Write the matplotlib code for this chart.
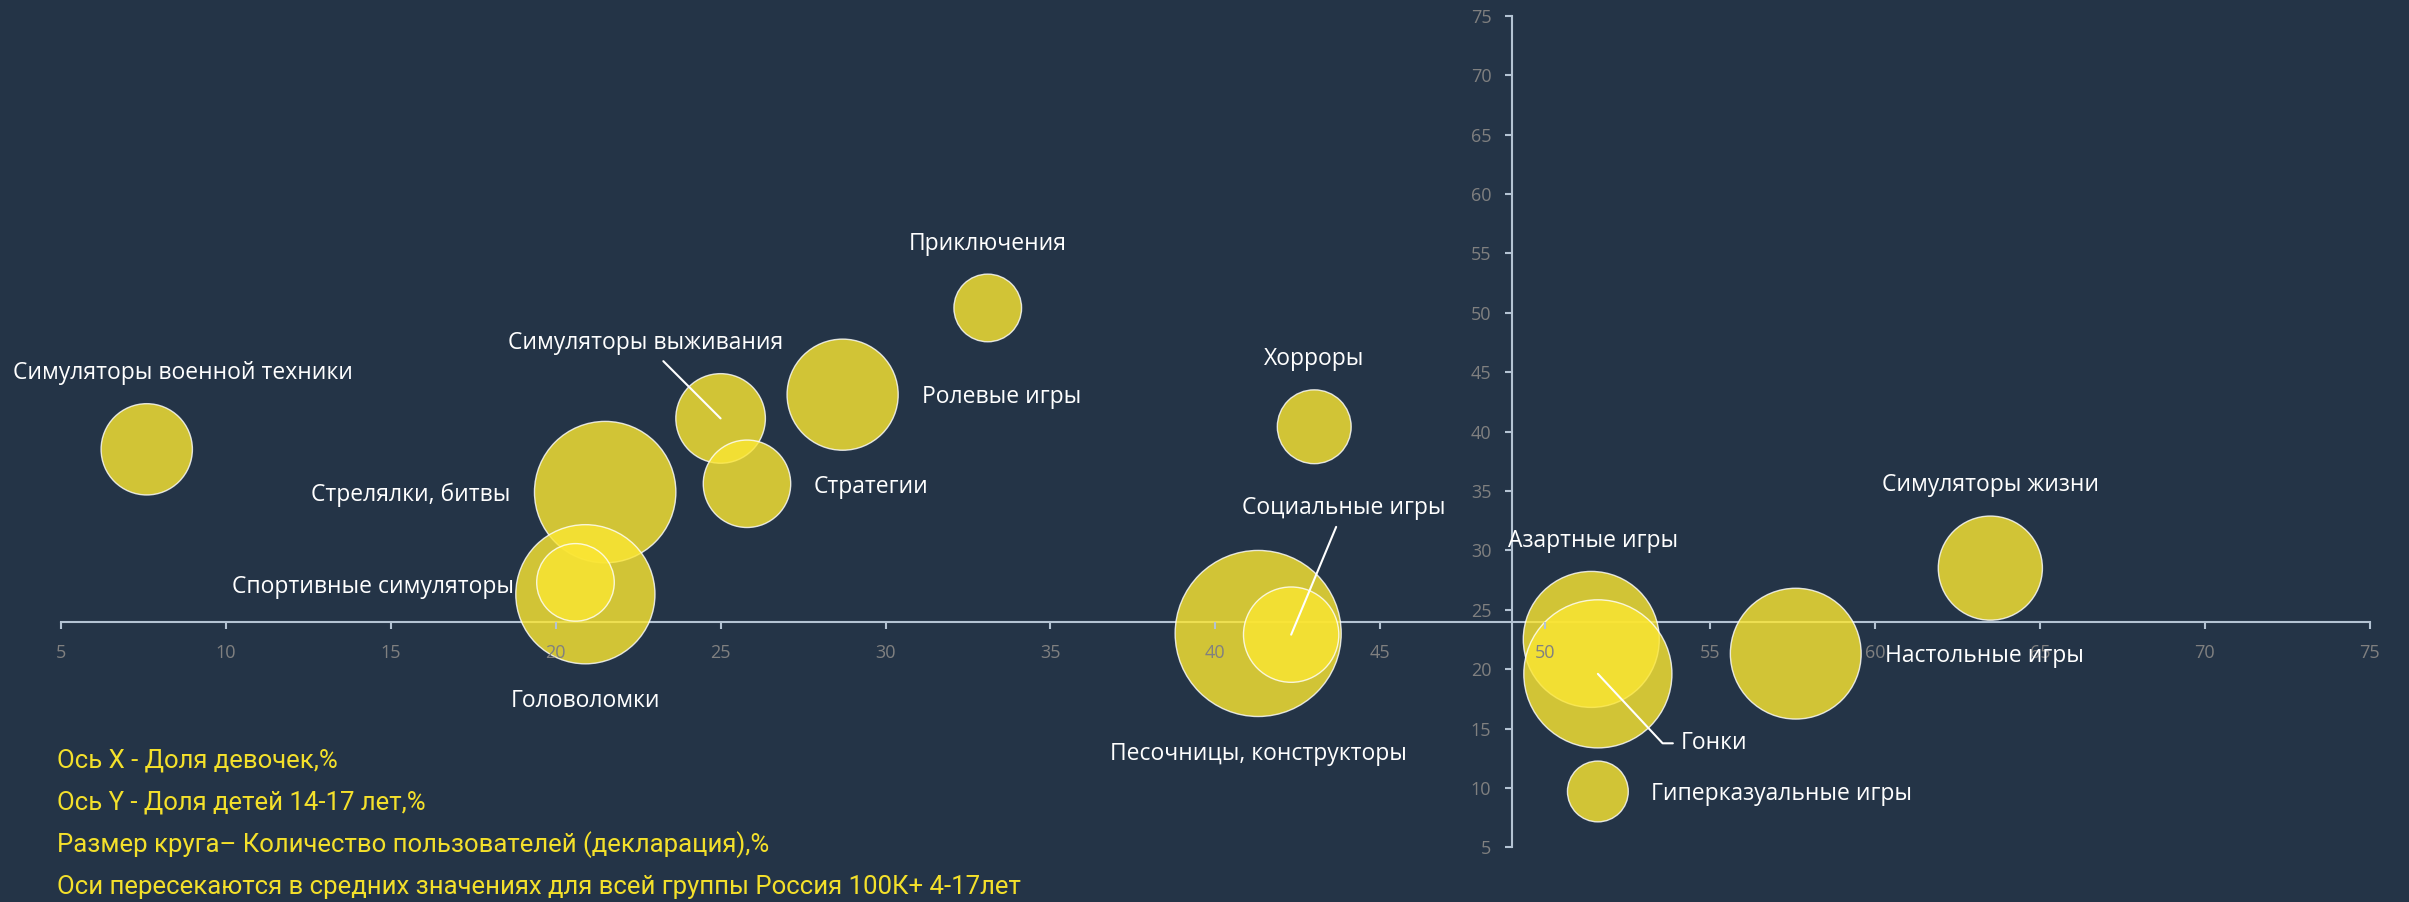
import matplotlib
matplotlib.use("Agg")
import matplotlib.pyplot as plt

# genres, x = share of girls %, y = share of kids 14-17 %, size = users %
genres = ["Симуляторы военной техники", "Стрелялки, битвы", "Головоломки",
          "Спортивные симуляторы", "Симуляторы выживания", "Стратегии",
          "Ролевые игры", "Приключения", "Хорроры", "Песочницы, конструкторы",
          "Социальные игры", "Азартные игры", "Гонки", "Настольные игры",
          "Гиперказуальные игры", "Симуляторы жизни"]
girls = [7.6, 21.5, 20.9, 20.6, 25.0, 25.8, 28.7, 33.1, 43.0, 41.3,
         42.3, 51.4, 51.6, 57.6, 51.6, 63.5]
teens = [38.5, 34.9, 26.3, 27.3, 41.1, 35.6, 43.1, 50.4, 40.4, 23.0,
         22.9, 22.5, 19.6, 21.3, 9.7, 28.5]
users = [13.3, 31.9, 30.9, 9.6, 12.8, 12.2, 19.7, 7.3, 8.7, 44.0,
         14.5, 29.5, 35.0, 27.3, 5.9, 17.3]

ticks = [5, 10, 15, 20, 25, 30, 35, 40, 45, 50, 55, 60, 65, 70, 75]
cross_x = 49.0   # mean share of girls
cross_y = 24.0   # mean share of 14-17

notes = ["Ось X - Доля девочек,%",
         "Ось Y - Доля детей 14-17 лет,%",
         "Размер круга– Количество пользователей (декларация),%",
         "Оси пересекаются в средних значениях для всей группы Россия 100К+ 4-17лет"]

# label placement: (dx pt, dy pt, ha, leader)
label_pos = [(26, 55, "center", None), (-68, -2, "right", None), (0, -77, "center", None),
             (-44, -3, "right", None), (-54, 54, "center", "line"), (48, -2, "left", None),
             (57, -2, "left", None), (0, 46, "center", None), (0, 49, "center", None),
             (0, -87, "center", None), (38, 91, "center", "line"), (-60, 71, "left", None),
             (60, -50, "left", "angle"), (64, -2, "left", None), (38, -2, "left", None),
             (0, 60, "center", None)]

BG = "#243447"
AXC = "#B4C3D3"

fig = plt.figure(figsize=(24.09, 9.02), dpi=100, facecolor=BG)
ax = fig.add_axes([0.02532, 0.06064, 0.95833, 0.92195])
ax.set_facecolor(BG)

ax.scatter(girls, teens, s=[u * 325 for u in users], color="#FBE633", alpha=0.81,
           edgecolors="white", linewidths=1.0, zorder=2)

ax.set_xlim(5, 75)
ax.set_ylim(5, 75)
ax.set_xticks(ticks)
ax.set_yticks(ticks)

for side in ["top", "right"]:
    ax.spines[side].set_visible(False)
ax.spines["left"].set_position(("data", cross_x))
ax.spines["bottom"].set_position(("data", cross_y))
for side in ["left", "bottom"]:
    ax.spines[side].set_color(AXC)
    ax.spines[side].set_linewidth(1.5)
    ax.spines[side].set_zorder(1)

ax.tick_params(axis="both", colors=AXC, labelcolor="#808080", length=5, width=1.5,
               labelsize=13)
ax.tick_params(axis="x", pad=11)
ax.tick_params(axis="y", pad=10)
for lab in ax.get_xticklabels() + ax.get_yticklabels():
    lab.set_family("Open Sans")
ax.xaxis.set_zorder(4)
ax.yaxis.set_zorder(4)

for name, x, y, (dx, dy, ha, leader) in zip(genres, girls, teens, label_pos):
    arrow = None
    if leader == "line":
        arrow = dict(arrowstyle="-", color="white", lw=1.5, shrinkA=3, shrinkB=0)
    elif leader == "angle":
        arrow = dict(arrowstyle="-", color="white", lw=1.5, shrinkA=4, shrinkB=0,
                     relpos=(0, 0.5), connectionstyle="angle,angleA=0,angleB=-47,rad=0")
    ax.annotate(name, xy=(x, y), xytext=(dx, dy), textcoords="offset points",
                ha=ha, va="center", color="white", fontsize=16.5, family="Open Sans",
                arrowprops=arrow, zorder=5)

note_y = [0.1574, 0.1101, 0.0632, 0.0170]
for txt, ny in zip(notes, note_y):
    fig.text(0.0235, ny, txt, color="#F4E02B", fontsize=18.5, family="Roboto",
             ha="left", va="center")

fig.savefig("out.png", dpi=100, facecolor=BG)
